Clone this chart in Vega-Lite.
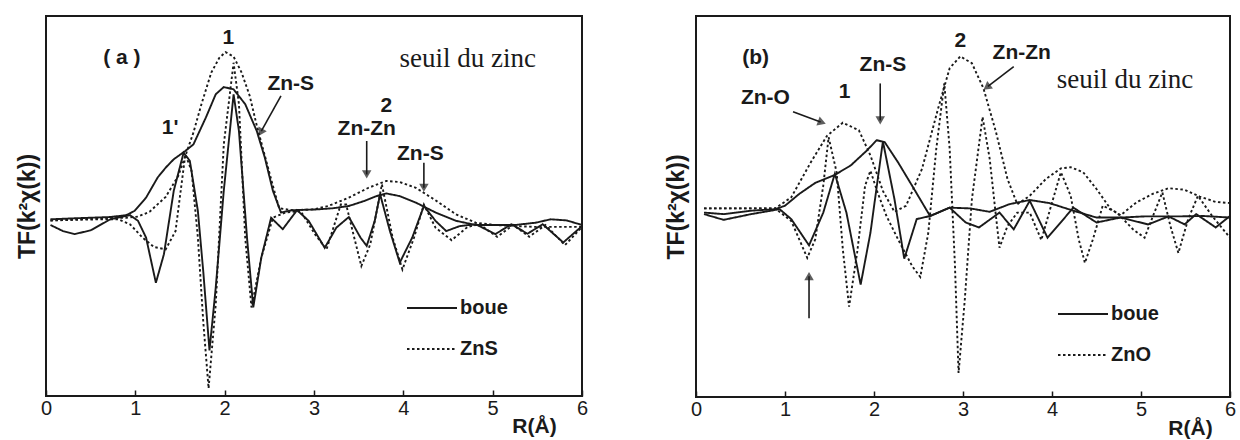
{
  "$schema": "https://vega.github.io/schema/vega-lite/v6.json",
  "padding": {"left": 15, "top": 15, "right": 0, "bottom": 0},
  "background": "white",
  "bounds": "flush",
  "spacing": 114,
  "resolve": {"scale": {"strokeDash": "independent"}, "legend": {"strokeDash": "independent"}},
  "config": {
    "font": "Liberation Sans",
    "view": {"stroke": "#1a1a1a", "strokeWidth": 2},
    "axis": {"grid": false, "domain": false, "labelColor": "#1a1a1a", "titleColor": "#1a1a1a", "tickColor": "#1a1a1a"},
    "legend": {"labelColor": "#1a1a1a"}
  },
  "datasets": {
    "a_curves": [
      {"sample":"boue","part":"mod","R":0.05,"TF":0},{"sample":"boue","part":"mod","R":0.36,"TF":0.3},{"sample":"boue","part":"mod","R":0.72,"TF":0.6},{"sample":"boue","part":"mod","R":0.9,"TF":1.1},{"sample":"boue","part":"mod","R":0.99,"TF":2.2},{"sample":"boue","part":"mod","R":1.12,"TF":5.7},{"sample":"boue","part":"mod","R":1.25,"TF":11.0},{"sample":"boue","part":"mod","R":1.34,"TF":13.6},{"sample":"boue","part":"mod","R":1.43,"TF":15.8},{"sample":"boue","part":"mod","R":1.56,"TF":18.0},{"sample":"boue","part":"mod","R":1.65,"TF":19.7},{"sample":"boue","part":"mod","R":1.79,"TF":26.8},{"sample":"boue","part":"mod","R":1.9,"TF":32.9},{"sample":"boue","part":"mod","R":1.99,"TF":34.8},{"sample":"boue","part":"mod","R":2.1,"TF":34.2},{"sample":"boue","part":"mod","R":2.23,"TF":30.3},{"sample":"boue","part":"mod","R":2.36,"TF":23.2},{"sample":"boue","part":"mod","R":2.45,"TF":16.2},{"sample":"boue","part":"mod","R":2.54,"TF":7.5},{"sample":"boue","part":"mod","R":2.63,"TF":1.8},{"sample":"boue","part":"mod","R":2.76,"TF":2.4},{"sample":"boue","part":"mod","R":3.03,"TF":2.6},{"sample":"boue","part":"mod","R":3.21,"TF":2.9},{"sample":"boue","part":"mod","R":3.39,"TF":3.5},{"sample":"boue","part":"mod","R":3.56,"TF":4.8},{"sample":"boue","part":"mod","R":3.7,"TF":6.1},{"sample":"boue","part":"mod","R":3.81,"TF":6.8},{"sample":"boue","part":"mod","R":3.96,"TF":6.1},{"sample":"boue","part":"mod","R":4.14,"TF":4.4},{"sample":"boue","part":"mod","R":4.36,"TF":1.8},{"sample":"boue","part":"mod","R":4.59,"TF":-0.4},{"sample":"boue","part":"mod","R":4.81,"TF":-1.5},{"sample":"boue","part":"mod","R":5.03,"TF":-1.5},{"sample":"boue","part":"mod","R":5.25,"TF":-1.5},{"sample":"boue","part":"mod","R":5.48,"TF":-0.9},{"sample":"boue","part":"mod","R":5.65,"TF":0},{"sample":"boue","part":"mod","R":5.83,"TF":-0.3},{"sample":"boue","part":"mod","R":6.0,"TF":-1.5},

      {"sample":"ZnS","part":"mod","R":0.05,"TF":-0.3},{"sample":"ZnS","part":"mod","R":0.36,"TF":0},{"sample":"ZnS","part":"mod","R":0.72,"TF":0.4},{"sample":"ZnS","part":"mod","R":0.9,"TF":0.4},{"sample":"ZnS","part":"mod","R":1.03,"TF":0.7},{"sample":"ZnS","part":"mod","R":1.16,"TF":2.0},{"sample":"ZnS","part":"mod","R":1.34,"TF":5.9},{"sample":"ZnS","part":"mod","R":1.48,"TF":11.4},{"sample":"ZnS","part":"mod","R":1.56,"TF":16.7},{"sample":"ZnS","part":"mod","R":1.65,"TF":22.8},{"sample":"ZnS","part":"mod","R":1.74,"TF":30.3},{"sample":"ZnS","part":"mod","R":1.85,"TF":38.6},{"sample":"ZnS","part":"mod","R":1.94,"TF":42.5},{"sample":"ZnS","part":"mod","R":2.01,"TF":44.0},{"sample":"ZnS","part":"mod","R":2.1,"TF":42.8},{"sample":"ZnS","part":"mod","R":2.19,"TF":38.6},{"sample":"ZnS","part":"mod","R":2.28,"TF":32.5},{"sample":"ZnS","part":"mod","R":2.36,"TF":24.6},{"sample":"ZnS","part":"mod","R":2.45,"TF":16.7},{"sample":"ZnS","part":"mod","R":2.54,"TF":8.8},{"sample":"ZnS","part":"mod","R":2.61,"TF":2.9},{"sample":"ZnS","part":"mod","R":2.76,"TF":2.4},{"sample":"ZnS","part":"mod","R":2.99,"TF":2.6},{"sample":"ZnS","part":"mod","R":3.16,"TF":3.5},{"sample":"ZnS","part":"mod","R":3.39,"TF":5.7},{"sample":"ZnS","part":"mod","R":3.61,"TF":8.3},{"sample":"ZnS","part":"mod","R":3.81,"TF":10.1},{"sample":"ZnS","part":"mod","R":3.96,"TF":9.8},{"sample":"ZnS","part":"mod","R":4.14,"TF":8.3},{"sample":"ZnS","part":"mod","R":4.36,"TF":5.0},{"sample":"ZnS","part":"mod","R":4.59,"TF":1.3},{"sample":"ZnS","part":"mod","R":4.81,"TF":-0.9},{"sample":"ZnS","part":"mod","R":5.03,"TF":-1.5},{"sample":"ZnS","part":"mod","R":5.25,"TF":-1.8},{"sample":"ZnS","part":"mod","R":5.48,"TF":-2.0},{"sample":"ZnS","part":"mod","R":5.7,"TF":-2.0},{"sample":"ZnS","part":"mod","R":6.0,"TF":-2.0},

      {"sample":"boue","part":"im","R":0.05,"TF":-1.5},{"sample":"boue","part":"im","R":0.19,"TF":-3.1},{"sample":"boue","part":"im","R":0.32,"TF":-3.9},{"sample":"boue","part":"im","R":0.5,"TF":-2.9},{"sample":"boue","part":"im","R":0.72,"TF":0},{"sample":"boue","part":"im","R":0.94,"TF":1.1},{"sample":"boue","part":"im","R":1.03,"TF":-0.4},{"sample":"boue","part":"im","R":1.12,"TF":-4.8},{"sample":"boue","part":"im","R":1.23,"TF":-16.7},{"sample":"boue","part":"im","R":1.32,"TF":-9.2},{"sample":"boue","part":"im","R":1.43,"TF":7.5},{"sample":"boue","part":"im","R":1.54,"TF":17.5},{"sample":"boue","part":"im","R":1.61,"TF":15.4},{"sample":"boue","part":"im","R":1.7,"TF":2.2},{"sample":"boue","part":"im","R":1.76,"TF":-13.6},{"sample":"boue","part":"im","R":1.83,"TF":-34.5},{"sample":"boue","part":"im","R":1.9,"TF":-18.0},{"sample":"boue","part":"im","R":1.99,"TF":7.5},{"sample":"boue","part":"im","R":2.1,"TF":32.9},{"sample":"boue","part":"im","R":2.16,"TF":23.2},{"sample":"boue","part":"im","R":2.25,"TF":-4.8},{"sample":"boue","part":"im","R":2.32,"TF":-23.2},{"sample":"boue","part":"im","R":2.41,"TF":-10.1},{"sample":"boue","part":"im","R":2.52,"TF":0.4},{"sample":"boue","part":"im","R":2.65,"TF":-2.6},{"sample":"boue","part":"im","R":2.81,"TF":2.4},{"sample":"boue","part":"im","R":2.94,"TF":-0.4},{"sample":"boue","part":"im","R":3.12,"TF":-7.5},{"sample":"boue","part":"im","R":3.25,"TF":-2.2},{"sample":"boue","part":"im","R":3.39,"TF":0.6},{"sample":"boue","part":"im","R":3.52,"TF":-4.8},{"sample":"boue","part":"im","R":3.59,"TF":-7.0},{"sample":"boue","part":"im","R":3.68,"TF":-0.4},{"sample":"boue","part":"im","R":3.74,"TF":6.6},{"sample":"boue","part":"im","R":3.85,"TF":-3.1},{"sample":"boue","part":"im","R":3.96,"TF":-11.4},{"sample":"boue","part":"im","R":4.1,"TF":-4.8},{"sample":"boue","part":"im","R":4.23,"TF":3.5},{"sample":"boue","part":"im","R":4.36,"TF":-0.4},{"sample":"boue","part":"im","R":4.48,"TF":-3.1},{"sample":"boue","part":"im","R":4.63,"TF":-1.8},{"sample":"boue","part":"im","R":4.81,"TF":-1.3},{"sample":"boue","part":"im","R":5.03,"TF":-3.9},{"sample":"boue","part":"im","R":5.21,"TF":-1.3},{"sample":"boue","part":"im","R":5.39,"TF":-3.8},{"sample":"boue","part":"im","R":5.56,"TF":-1.3},{"sample":"boue","part":"im","R":5.79,"TF":-6.1},{"sample":"boue","part":"im","R":6.0,"TF":-1.8},

      {"sample":"ZnS","part":"im","R":0.05,"TF":-0.3},{"sample":"ZnS","part":"im","R":0.59,"TF":0},{"sample":"ZnS","part":"im","R":0.81,"TF":0},{"sample":"ZnS","part":"im","R":0.94,"TF":-1.3},{"sample":"ZnS","part":"im","R":1.08,"TF":-4.8},{"sample":"ZnS","part":"im","R":1.21,"TF":-7.3},{"sample":"ZnS","part":"im","R":1.34,"TF":-7.9},{"sample":"ZnS","part":"im","R":1.45,"TF":-3.1},{"sample":"ZnS","part":"im","R":1.56,"TF":17.1},{"sample":"ZnS","part":"im","R":1.63,"TF":12.7},{"sample":"ZnS","part":"im","R":1.7,"TF":-4.8},{"sample":"ZnS","part":"im","R":1.76,"TF":-26.8},{"sample":"ZnS","part":"im","R":1.82,"TF":-44.5},{"sample":"ZnS","part":"im","R":1.9,"TF":-22.4},{"sample":"ZnS","part":"im","R":1.99,"TF":19.7},{"sample":"ZnS","part":"im","R":2.1,"TF":41.2},{"sample":"ZnS","part":"im","R":2.16,"TF":30.3},{"sample":"ZnS","part":"im","R":2.23,"TF":-4.8},{"sample":"ZnS","part":"im","R":2.3,"TF":-23.2},{"sample":"ZnS","part":"im","R":2.41,"TF":-10.1},{"sample":"ZnS","part":"im","R":2.54,"TF":0.4},{"sample":"ZnS","part":"im","R":2.68,"TF":1.8},{"sample":"ZnS","part":"im","R":2.85,"TF":2.2},{"sample":"ZnS","part":"im","R":3.01,"TF":-3.9},{"sample":"ZnS","part":"im","R":3.14,"TF":-7.9},{"sample":"ZnS","part":"im","R":3.3,"TF":3.9},{"sample":"ZnS","part":"im","R":3.36,"TF":3.9},{"sample":"ZnS","part":"im","R":3.45,"TF":-4.8},{"sample":"ZnS","part":"im","R":3.53,"TF":-12.3},{"sample":"ZnS","part":"im","R":3.63,"TF":-6.6},{"sample":"ZnS","part":"im","R":3.76,"TF":9.2},{"sample":"ZnS","part":"im","R":3.88,"TF":-4.8},{"sample":"ZnS","part":"im","R":3.99,"TF":-13.2},{"sample":"ZnS","part":"im","R":4.12,"TF":-4.8},{"sample":"ZnS","part":"im","R":4.23,"TF":3.9},{"sample":"ZnS","part":"im","R":4.36,"TF":-2.2},{"sample":"ZnS","part":"im","R":4.54,"TF":-5.5},{"sample":"ZnS","part":"im","R":4.72,"TF":-2.0},{"sample":"ZnS","part":"im","R":4.85,"TF":-1.3},{"sample":"ZnS","part":"im","R":5.05,"TF":-4.6},{"sample":"ZnS","part":"im","R":5.23,"TF":-1.5},{"sample":"ZnS","part":"im","R":5.41,"TF":-4.6},{"sample":"ZnS","part":"im","R":5.59,"TF":-1.5},{"sample":"ZnS","part":"im","R":5.81,"TF":-6.8},{"sample":"ZnS","part":"im","R":6.0,"TF":-2.0}
    ],
    "b_curves": [
      {"sample":"boue","part":"mod","R":0.09,"TF":-0.9},{"sample":"boue","part":"mod","R":0.31,"TF":-1.3},{"sample":"boue","part":"mod","R":0.62,"TF":-0.4},{"sample":"boue","part":"mod","R":0.89,"TF":0},{"sample":"boue","part":"mod","R":1.0,"TF":0.9},{"sample":"boue","part":"mod","R":1.16,"TF":4.0},{"sample":"boue","part":"mod","R":1.34,"TF":6.9},{"sample":"boue","part":"mod","R":1.56,"TF":9.0},{"sample":"boue","part":"mod","R":1.74,"TF":11.5},{"sample":"boue","part":"mod","R":1.92,"TF":15.4},{"sample":"boue","part":"mod","R":2.03,"TF":18.1},{"sample":"boue","part":"mod","R":2.12,"TF":17.6},{"sample":"boue","part":"mod","R":2.27,"TF":12.3},{"sample":"boue","part":"mod","R":2.45,"TF":5.3},{"sample":"boue","part":"mod","R":2.63,"TF":-1.8},{"sample":"boue","part":"mod","R":2.85,"TF":0.4},{"sample":"boue","part":"mod","R":3.08,"TF":0.2},{"sample":"boue","part":"mod","R":3.3,"TF":-0.7},{"sample":"boue","part":"mod","R":3.52,"TF":1.3},{"sample":"boue","part":"mod","R":3.75,"TF":2.4},{"sample":"boue","part":"mod","R":3.97,"TF":1.6},{"sample":"boue","part":"mod","R":4.24,"TF":-0.4},{"sample":"boue","part":"mod","R":4.5,"TF":-2.2},{"sample":"boue","part":"mod","R":4.77,"TF":-2.2},{"sample":"boue","part":"mod","R":5.04,"TF":-1.9},{"sample":"boue","part":"mod","R":5.4,"TF":-1.9},{"sample":"boue","part":"mod","R":5.71,"TF":-1.8},{"sample":"boue","part":"mod","R":6.0,"TF":-2.2},

      {"sample":"ZnO","part":"mod","R":0.09,"TF":0.2},{"sample":"ZnO","part":"mod","R":0.49,"TF":0.2},{"sample":"ZnO","part":"mod","R":0.89,"TF":0.2},{"sample":"ZnO","part":"mod","R":1.07,"TF":3.1},{"sample":"ZnO","part":"mod","R":1.29,"TF":12.3},{"sample":"ZnO","part":"mod","R":1.47,"TF":19.2},{"sample":"ZnO","part":"mod","R":1.65,"TF":22.7},{"sample":"ZnO","part":"mod","R":1.83,"TF":20.7},{"sample":"ZnO","part":"mod","R":1.96,"TF":14.1},{"sample":"ZnO","part":"mod","R":2.1,"TF":4.8},{"sample":"ZnO","part":"mod","R":2.23,"TF":-0.7},{"sample":"ZnO","part":"mod","R":2.36,"TF":0.9},{"sample":"ZnO","part":"mod","R":2.54,"TF":10.6},{"sample":"ZnO","part":"mod","R":2.72,"TF":26.4},{"sample":"ZnO","part":"mod","R":2.85,"TF":37.0},{"sample":"ZnO","part":"mod","R":2.97,"TF":40.1},{"sample":"ZnO","part":"mod","R":3.1,"TF":38.3},{"sample":"ZnO","part":"mod","R":3.23,"TF":31.7},{"sample":"ZnO","part":"mod","R":3.37,"TF":20.3},{"sample":"ZnO","part":"mod","R":3.5,"TF":7.9},{"sample":"ZnO","part":"mod","R":3.61,"TF":1.3},{"sample":"ZnO","part":"mod","R":3.75,"TF":3.5},{"sample":"ZnO","part":"mod","R":3.93,"TF":7.9},{"sample":"ZnO","part":"mod","R":4.1,"TF":10.7},{"sample":"ZnO","part":"mod","R":4.21,"TF":11.0},{"sample":"ZnO","part":"mod","R":4.35,"TF":9.7},{"sample":"ZnO","part":"mod","R":4.5,"TF":5.3},{"sample":"ZnO","part":"mod","R":4.66,"TF":0},{"sample":"ZnO","part":"mod","R":4.77,"TF":-1.6},{"sample":"ZnO","part":"mod","R":4.95,"TF":1.8},{"sample":"ZnO","part":"mod","R":5.13,"TF":4.0},{"sample":"ZnO","part":"mod","R":5.31,"TF":5.5},{"sample":"ZnO","part":"mod","R":5.49,"TF":5.1},{"sample":"ZnO","part":"mod","R":5.66,"TF":3.3},{"sample":"ZnO","part":"mod","R":5.84,"TF":1.9},{"sample":"ZnO","part":"mod","R":6.0,"TF":1.6},

      {"sample":"boue","part":"im","R":0.09,"TF":-1.3},{"sample":"boue","part":"im","R":0.31,"TF":-2.8},{"sample":"boue","part":"im","R":0.62,"TF":-1.3},{"sample":"boue","part":"im","R":0.94,"TF":0},{"sample":"boue","part":"im","R":1.07,"TF":-2.6},{"sample":"boue","part":"im","R":1.27,"TF":-9.5},{"sample":"boue","part":"im","R":1.43,"TF":-0.9},{"sample":"boue","part":"im","R":1.56,"TF":9.3},{"sample":"boue","part":"im","R":1.69,"TF":-0.9},{"sample":"boue","part":"im","R":1.85,"TF":-19.8},{"sample":"boue","part":"im","R":1.96,"TF":-6.2},{"sample":"boue","part":"im","R":2.1,"TF":17.8},{"sample":"boue","part":"im","R":2.23,"TF":2.6},{"sample":"boue","part":"im","R":2.34,"TF":-13.0},{"sample":"boue","part":"im","R":2.48,"TF":-2.6},{"sample":"boue","part":"im","R":2.63,"TF":-1.8},{"sample":"boue","part":"im","R":2.85,"TF":0.4},{"sample":"boue","part":"im","R":3.03,"TF":-3.5},{"sample":"boue","part":"im","R":3.18,"TF":-4.8},{"sample":"boue","part":"im","R":3.41,"TF":-0.9},{"sample":"boue","part":"im","R":3.57,"TF":-5.3},{"sample":"boue","part":"im","R":3.75,"TF":2.2},{"sample":"boue","part":"im","R":3.95,"TF":-7.5},{"sample":"boue","part":"im","R":4.24,"TF":0.4},{"sample":"boue","part":"im","R":4.5,"TF":-3.5},{"sample":"boue","part":"im","R":4.77,"TF":-2.2},{"sample":"boue","part":"im","R":5.08,"TF":-4.0},{"sample":"boue","part":"im","R":5.31,"TF":-1.9},{"sample":"boue","part":"im","R":5.49,"TF":-4.0},{"sample":"boue","part":"im","R":5.62,"TF":-1.3},{"sample":"boue","part":"im","R":5.84,"TF":-4.8},{"sample":"boue","part":"im","R":6.0,"TF":-1.8},

      {"sample":"ZnO","part":"im","R":0.09,"TF":0.2},{"sample":"ZnO","part":"im","R":0.89,"TF":0.2},{"sample":"ZnO","part":"im","R":1.07,"TF":-3.1},{"sample":"ZnO","part":"im","R":1.16,"TF":-7.9},{"sample":"ZnO","part":"im","R":1.25,"TF":-12.8},{"sample":"ZnO","part":"im","R":1.34,"TF":-7.9},{"sample":"ZnO","part":"im","R":1.43,"TF":6.2},{"sample":"ZnO","part":"im","R":1.49,"TF":18.9},{"sample":"ZnO","part":"im","R":1.58,"TF":9.7},{"sample":"ZnO","part":"im","R":1.65,"TF":-10.6},{"sample":"ZnO","part":"im","R":1.72,"TF":-25.6},{"sample":"ZnO","part":"im","R":1.81,"TF":-11.5},{"sample":"ZnO","part":"im","R":1.9,"TF":6.2},{"sample":"ZnO","part":"im","R":1.96,"TF":10.1},{"sample":"ZnO","part":"im","R":2.04,"TF":4.4},{"sample":"ZnO","part":"im","R":2.14,"TF":-1.8},{"sample":"ZnO","part":"im","R":2.27,"TF":-7.9},{"sample":"ZnO","part":"im","R":2.43,"TF":-15.0},{"sample":"ZnO","part":"im","R":2.52,"TF":-17.8},{"sample":"ZnO","part":"im","R":2.61,"TF":-6.2},{"sample":"ZnO","part":"im","R":2.7,"TF":15.9},{"sample":"ZnO","part":"im","R":2.79,"TF":33.0},{"sample":"ZnO","part":"im","R":2.85,"TF":15.9},{"sample":"ZnO","part":"im","R":2.91,"TF":-15.0},{"sample":"ZnO","part":"im","R":2.95,"TF":-43.0},{"sample":"ZnO","part":"im","R":3.02,"TF":-23.8},{"sample":"ZnO","part":"im","R":3.1,"TF":2.6},{"sample":"ZnO","part":"im","R":3.22,"TF":24.2},{"sample":"ZnO","part":"im","R":3.3,"TF":13.2},{"sample":"ZnO","part":"im","R":3.37,"TF":-1.8},{"sample":"ZnO","part":"im","R":3.41,"TF":-10.1},{"sample":"ZnO","part":"im","R":3.5,"TF":-4.4},{"sample":"ZnO","part":"im","R":3.61,"TF":-0.9},{"sample":"ZnO","part":"im","R":3.75,"TF":-0.9},{"sample":"ZnO","part":"im","R":3.88,"TF":-8.1},{"sample":"ZnO","part":"im","R":3.99,"TF":0.9},{"sample":"ZnO","part":"im","R":4.1,"TF":9.7},{"sample":"ZnO","part":"im","R":4.21,"TF":3.5},{"sample":"ZnO","part":"im","R":4.3,"TF":-7.9},{"sample":"ZnO","part":"im","R":4.37,"TF":-14.1},{"sample":"ZnO","part":"im","R":4.46,"TF":-7.9},{"sample":"ZnO","part":"im","R":4.57,"TF":0.9},{"sample":"ZnO","part":"im","R":4.73,"TF":-0.9},{"sample":"ZnO","part":"im","R":4.91,"TF":-5.3},{"sample":"ZnO","part":"im","R":5.04,"TF":-7.5},{"sample":"ZnO","part":"im","R":5.15,"TF":-0.9},{"sample":"ZnO","part":"im","R":5.24,"TF":4.4},{"sample":"ZnO","part":"im","R":5.33,"TF":-4.4},{"sample":"ZnO","part":"im","R":5.42,"TF":-11.5},{"sample":"ZnO","part":"im","R":5.53,"TF":-2.6},{"sample":"ZnO","part":"im","R":5.64,"TF":3.5},{"sample":"ZnO","part":"im","R":5.8,"TF":-1.8},{"sample":"ZnO","part":"im","R":6.0,"TF":-7.5}
    ],
    "a_notes": [
      {"R":0.85,"TF":42.5,"label":"( a )","kind":"sans"},
      {"R":2.04,"TF":47.8,"label":"1","kind":"sans"},
      {"R":1.39,"TF":24.1,"label":"1'","kind":"sans"},
      {"R":2.74,"TF":35.5,"label":"Zn-S","kind":"sans"},
      {"R":3.81,"TF":29.8,"label":"2","kind":"sans"},
      {"R":3.59,"TF":23.7,"label":"Zn-Zn","kind":"sans"},
      {"R":4.19,"TF":17.1,"label":"Zn-S","kind":"sans"},
      {"R":4.72,"TF":42.1,"label":"seuil du zinc","kind":"serif"}
    ],
    "a_arrows": [
      {"R":2.63,"TF":32.5,"R2":2.41,"TF2":23.2,"dir":"downleft"},
      {"R":3.59,"TF":20.6,"R2":3.59,"TF2":11.8,"dir":"down"},
      {"R":4.23,"TF":14.9,"R2":4.23,"TF2":8.3,"dir":"down"}
    ],
    "b_notes": [
      {"R":0.67,"TF":39.6,"label":"(b)","kind":"sans"},
      {"R":2.10,"TF":37.9,"label":"Zn-S","kind":"sans"},
      {"R":1.67,"TF":30.8,"label":"1","kind":"sans"},
      {"R":0.78,"TF":29.1,"label":"Zn-O","kind":"sans"},
      {"R":2.97,"TF":44.1,"label":"2","kind":"sans"},
      {"R":3.66,"TF":41.0,"label":"Zn-Zn","kind":"sans"},
      {"R":4.82,"TF":33.9,"label":"seuil du zinc","kind":"serif"}
    ],
    "b_arrows": [
      {"R":2.07,"TF":33.0,"R2":2.07,"TF2":23.3,"dir":"down"},
      {"R":1.09,"TF":25.6,"R2":1.40,"TF2":22.9,"dir":"right"},
      {"R":3.57,"TF":37.4,"R2":3.28,"TF2":32.2,"dir":"downleft"},
      {"R":1.27,"TF":-28.6,"R2":1.27,"TF2":-17.6,"dir":"up"}
    ]
  },
  "hconcat": [
    {
      "width": 536,
      "height": 380,
      "encoding": {
        "x": {"field": "R", "type": "quantitative", "scale": {"domain": [0, 6], "nice": false},
          "axis": {"values": [0,1,2,3,4,5,6], "format": "d", "tickSize": -6, "tickWidth": 1.5, "labelPadding": 8, "labelFontSize": 20, "labelAngle": 0, "labelFlush": false,
            "title": "R(Å)", "titleX": 488, "titleY": 30, "titleFontSize": 21, "titleFontWeight": "bold", "titleAlign": "center", "titleBaseline": "middle"}},
        "y": {"field": "TF", "type": "quantitative", "scale": {"domain": [-46.5, 53.5], "nice": false, "zero": false},
          "axis": {"title": "TF(k²χ(k))", "ticks": false, "labels": false, "titleFontSize": 23, "titleFontWeight": "bold", "titlePadding": 7}}
      },
      "layer": [
        {
          "data": {"name": "a_curves"},
          "mark": {"type": "line", "color": "#1a1a1a", "strokeWidth": 1.9},
          "encoding": {
            "detail": {"field": "part"},
            "strokeDash": {"field": "sample", "type": "nominal", "scale": {"domain": ["boue", "ZnS"], "range": [[1, 0], [2.5, 2.5]]},
              "legend": {"orient": "none", "legendX": 360, "legendY": 266, "title": null, "symbolType": "stroke", "symbolSize": 2500, "symbolStrokeWidth": 1.9, "symbolStrokeColor": "#1a1a1a", "labelFontSize": 20, "labelFontWeight": "bold", "labelOffset": 2, "rowPadding": 5, "padding": 0}}
          }
        },
        {
          "data": {"name": "a_notes"},
          "transform": [{"filter": "datum.kind === 'sans'"}],
          "mark": {"type": "text", "font": "Liberation Sans", "fontWeight": "bold", "fontSize": 21, "color": "#1a1a1a", "align": "center", "baseline": "middle"},
          "encoding": {"text": {"field": "label"}}
        },
        {
          "data": {"name": "a_notes"},
          "transform": [{"filter": "datum.kind === 'serif'"}],
          "mark": {"type": "text", "font": "Liberation Serif", "fontSize": 27, "color": "#1a1a1a", "align": "center", "baseline": "middle"},
          "encoding": {"text": {"field": "label"}}
        },
        {
          "data": {"name": "a_arrows"},
          "mark": {"type": "rule", "color": "#1a1a1a", "strokeWidth": 1.6},
          "encoding": {"x2": {"field": "R2"}, "y2": {"field": "TF2"}}
        },
        {
          "data": {"name": "a_arrows"},
          "transform": [{"filter": "datum.dir === 'down'"}],
          "mark": {"type": "point", "shape": "triangle-down", "filled": true, "color": "#1a1a1a", "size": 90},
          "encoding": {"x": {"field": "R2", "type": "quantitative"}, "y": {"field": "TF2", "type": "quantitative"}}
        },
        {
          "data": {"name": "a_arrows"},
          "transform": [{"filter": "datum.dir === 'downleft'"}],
          "mark": {"type": "point", "shape": "triangle", "angle": 210, "filled": true, "color": "#1a1a1a", "size": 90},
          "encoding": {"x": {"field": "R2", "type": "quantitative"}, "y": {"field": "TF2", "type": "quantitative"}}
        }
      ]
    },
    {
      "width": 534,
      "height": 381,
      "encoding": {
        "x": {"field": "R", "type": "quantitative", "scale": {"domain": [0, 6], "nice": false},
          "axis": {"values": [0,1,2,3,4,5,6], "format": "d", "tickSize": -6, "tickWidth": 1.5, "labelPadding": 8, "labelFontSize": 20, "labelAngle": 0, "labelFlush": false,
            "title": "R(Å)", "titleX": 494, "titleY": 31, "titleFontSize": 21, "titleFontWeight": "bold", "titleAlign": "center", "titleBaseline": "middle"}},
        "y": {"field": "TF", "type": "quantitative", "scale": {"domain": [-49.3, 50.7], "nice": false, "zero": false},
          "axis": {"title": "TF(k²χ(k))", "ticks": false, "labels": false, "titleFontSize": 23, "titleFontWeight": "bold", "titlePadding": 8}}
      },
      "layer": [
        {
          "data": {"name": "b_curves"},
          "mark": {"type": "line", "color": "#1a1a1a", "strokeWidth": 1.9},
          "encoding": {
            "detail": {"field": "part"},
            "strokeDash": {"field": "sample", "type": "nominal", "scale": {"domain": ["boue", "ZnO"], "range": [[1, 0], [2.5, 2.5]]},
              "legend": {"orient": "none", "legendX": 361, "legendY": 272, "title": null, "symbolType": "stroke", "symbolSize": 2500, "symbolStrokeWidth": 1.9, "symbolStrokeColor": "#1a1a1a", "labelFontSize": 20, "labelFontWeight": "bold", "labelOffset": 2, "rowPadding": 5, "padding": 0}}
          }
        },
        {
          "data": {"name": "b_notes"},
          "transform": [{"filter": "datum.kind === 'sans'"}],
          "mark": {"type": "text", "font": "Liberation Sans", "fontWeight": "bold", "fontSize": 21, "color": "#1a1a1a", "align": "center", "baseline": "middle"},
          "encoding": {"text": {"field": "label"}}
        },
        {
          "data": {"name": "b_notes"},
          "transform": [{"filter": "datum.kind === 'serif'"}],
          "mark": {"type": "text", "font": "Liberation Serif", "fontSize": 27, "color": "#1a1a1a", "align": "center", "baseline": "middle"},
          "encoding": {"text": {"field": "label"}}
        },
        {
          "data": {"name": "b_arrows"},
          "mark": {"type": "rule", "color": "#1a1a1a", "strokeWidth": 1.6},
          "encoding": {"x2": {"field": "R2"}, "y2": {"field": "TF2"}}
        },
        {
          "data": {"name": "b_arrows"},
          "transform": [{"filter": "datum.dir === 'down'"}],
          "mark": {"type": "point", "shape": "triangle-down", "filled": true, "color": "#1a1a1a", "size": 90},
          "encoding": {"x": {"field": "R2", "type": "quantitative"}, "y": {"field": "TF2", "type": "quantitative"}}
        },
        {
          "data": {"name": "b_arrows"},
          "transform": [{"filter": "datum.dir === 'up'"}],
          "mark": {"type": "point", "shape": "triangle-up", "filled": true, "color": "#1a1a1a", "size": 90},
          "encoding": {"x": {"field": "R2", "type": "quantitative"}, "y": {"field": "TF2", "type": "quantitative"}}
        },
        {
          "data": {"name": "b_arrows"},
          "transform": [{"filter": "datum.dir === 'right'"}],
          "mark": {"type": "point", "shape": "triangle", "angle": 110, "filled": true, "color": "#1a1a1a", "size": 90},
          "encoding": {"x": {"field": "R2", "type": "quantitative"}, "y": {"field": "TF2", "type": "quantitative"}}
        },
        {
          "data": {"name": "b_arrows"},
          "transform": [{"filter": "datum.dir === 'downleft'"}],
          "mark": {"type": "point", "shape": "triangle", "angle": 233, "filled": true, "color": "#1a1a1a", "size": 90},
          "encoding": {"x": {"field": "R2", "type": "quantitative"}, "y": {"field": "TF2", "type": "quantitative"}}
        }
      ]
    }
  ]
}
